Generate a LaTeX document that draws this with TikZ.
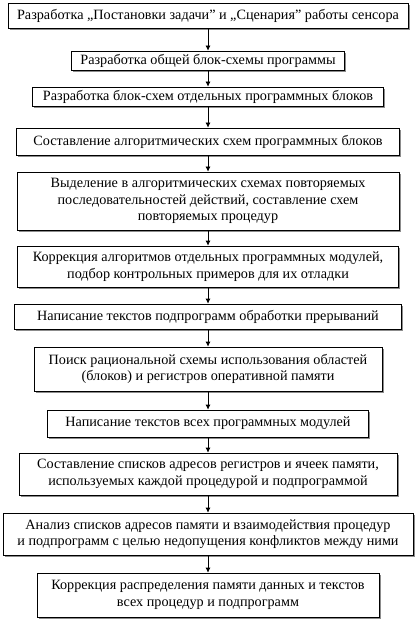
\documentclass[tikz,border=0pt]{standalone}
\usepackage{fontspec}
\setmainfont{Liberation Serif}
\usetikzlibrary{shadows,arrows.meta}
\tikzset{
  stage/.style={draw,line width=0.7pt,fill=white,align=center,inner sep=1pt,
    font=\fontsize{14.2}{16.5}\selectfont,
    drop shadow={shadow xshift=1.6pt,shadow yshift=-1.6pt,fill=black!45,opacity=1}},
  flow/.style={-{Latex[length=5pt,width=5pt]},line width=0.7pt}
}
\begin{document}
\begin{tikzpicture}[x=1pt,y=1pt]
  \useasboundingbox (0,0) rectangle (416,-620);
  \node[stage,minimum width=400,minimum height=25] (b1) at (208,-15.5)
    {Разработка „Постановки задачи” и „Сценария” работы сенсора};
  \node[stage,minimum width=273,minimum height=19] (b2) at (208,-60.5)
    {Разработка общей блок-схемы программы};
  \node[stage,minimum width=351,minimum height=19] (b3) at (208,-96.5)
    {Разработка блок-схем отдельных программных блоков};
  \node[stage,minimum width=383,minimum height=27] (b4) at (208,-141.5)
    {Составление алгоритмических схем программных блоков};
  \node[stage,minimum width=382,minimum height=58] (b5) at (208,-201)
    {Выделение в алгоритмических схемах повторяемых\\
     последовательностей действий, составление схем\\
     повторяемых процедур};
  \node[stage,minimum width=381,minimum height=41] (b6) at (208,-266.5)
    {Коррекция алгоритмов отдельных программных модулей,\\
     подбор контрольных примеров для их отладки};
  \node[stage,minimum width=387,minimum height=25] (b7) at (208,-316.5)
    {Написание текстов подпрограмм обработки прерываний};
  \node[stage,minimum width=348,minimum height=44] (b8) at (208,-369)
    {Поиск рациональной схемы использования областей\\
     (блоков) и регистров оперативной памяти};
  \node[stage,minimum width=321,minimum height=27] (b9) at (208,-423.5)
    {Написание текстов всех программных модулей};
  \node[stage,minimum width=378,minimum height=42] (b10) at (208,-474)
    {Составление списков адресов регистров и ячеек памяти,\\
     используемых каждой процедурой и подпрограммой};
  \node[stage,minimum width=410,minimum height=42] (b11) at (208,-534)
    {Анализ списков адресов памяти и взаимодействия процедур\\
     и подпрограмм с целью недопущения конфликтов между ними};
  \node[stage,minimum width=342,minimum height=44] (b12) at (208,-595)
    {Коррекция распределения памяти данных и текстов\\
     всех процедур и подпрограмм};
  % arrows between stages
  \foreach \a/\b in {b1/b2,b2/b3,b3/b4,b4/b5,b5/b6,b6/b7,b7/b8,b8/b9,b9/b10,b10/b11,b11/b12}
    \draw[flow] (\a) -- (\b);
\end{tikzpicture}
\end{document}
